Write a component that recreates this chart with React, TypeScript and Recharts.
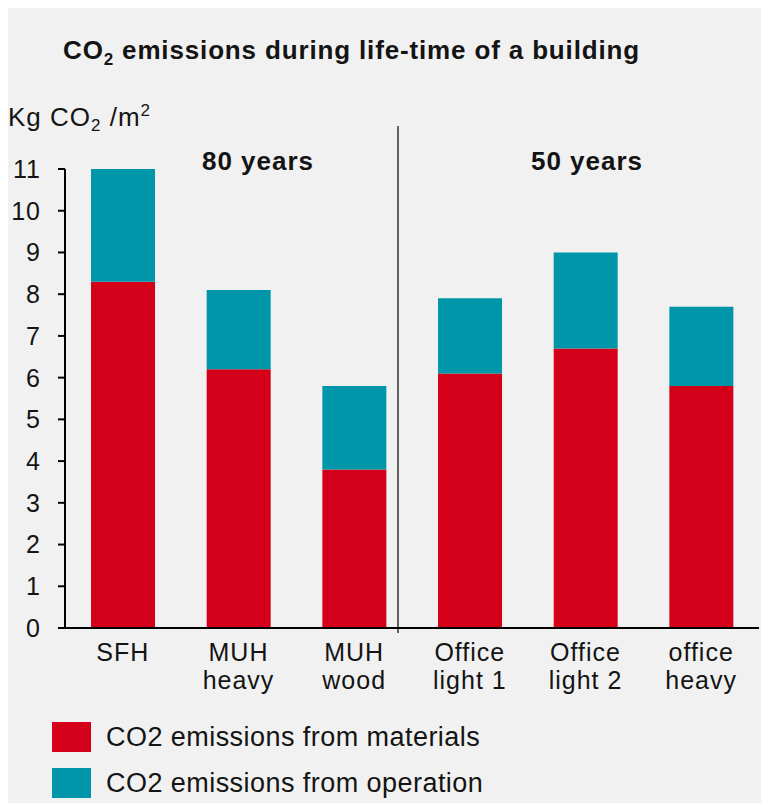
import { BarChart, Bar, XAxis, YAxis, ReferenceLine } from "recharts";

const categories = ["SFH", "MUH\nheavy", "MUH\nwood", "Office\nlight 1", "Office\nlight 2", "office\nheavy"];
const materials = [8.3, 6.2, 3.8, 6.1, 6.7, 5.8];
const operation = [2.7, 1.9, 2.0, 1.8, 2.3, 1.9];
const yTicks = [0, 1, 2, 3, 4, 5, 6, 7, 8, 9, 10, 11];
const seriesNames = ["CO2 emissions from materials", "CO2 emissions from operation"];
const seriesColors = ["#d40019", "#0096a9"];
const periods = ["80 years", "50 years"];

const data = categories.map((name, i) => ({
  name,
  materials: materials[i],
  operation: operation[i],
}));

const FONT = "'Liberation Sans', Arial, sans-serif";
const INK = "#141414";

const XTick = (props: any) => {
  const { x, y, payload } = props;
  const lines = String(payload.value).split("\n");
  return (
    <text x={x} y={y} textAnchor="middle" fill={INK} fontSize={25} fontFamily={FONT} style={{ letterSpacing: 1 }}>
      {lines.map((line, i) => (
        <tspan key={i} x={x} dy={i === 0 ? 33 : 28}>
          {line}
        </tspan>
      ))}
    </text>
  );
};

// divider between the two building groups, runs a bit above and below the plot
const Divider = (props: any) => {
  const { x1, y1, y2 } = props;
  const top = Math.min(y1, y2);
  const bottom = Math.max(y1, y2);
  return <line x1={x1 - 14} x2={x1 - 14} y1={top - 43} y2={bottom + 5} stroke="#333" strokeWidth={1.5} />;
};

export default function App() {
  return (
    <div
      style={{
        position: "relative",
        width: 761,
        height: 800,
        marginTop: -5,
        background: "#f1f1f1",
        fontFamily: FONT,
        color: INK,
      }}
    >
      <div style={{ position: "absolute", left: 55, top: 34, fontSize: 26, fontWeight: "bold", lineHeight: 1, whiteSpace: "nowrap", letterSpacing: 0.85 }}>
        CO<span style={{ fontSize: 17, position: "relative", top: 6 }}>2</span> emissions during life-time of a building
      </div>
      <div style={{ position: "absolute", left: 0, top: 101, fontSize: 26, lineHeight: 1, whiteSpace: "nowrap", letterSpacing: 1 }}>
        Kg CO<span style={{ fontSize: 17, position: "relative", top: 5 }}>2</span> /m<span style={{ fontSize: 17, position: "relative", top: -10 }}>2</span>
      </div>
      <div style={{ position: "absolute", left: 250 - 100, width: 200, textAlign: "center", top: 145, fontSize: 26, fontWeight: "bold", lineHeight: 1, letterSpacing: 1 }}>
        {periods[0]}
      </div>
      <div style={{ position: "absolute", left: 579 - 100, width: 200, textAlign: "center", top: 145, fontSize: 26, fontWeight: "bold", lineHeight: 1, letterSpacing: 1 }}>
        {periods[1]}
      </div>

      <div style={{ position: "absolute", left: 0, top: 0 }}>
        <BarChart
          width={761}
          height={800}
          data={data}
          margin={{ top: 166, right: 10, bottom: 105, left: 0 }}
          barCategoryGap="22.5%"
        >
          <XAxis
            dataKey="name"
            height={70}
            tickLine={false}
            tickSize={0}
            tickMargin={0}
            axisLine={{ stroke: "#000", strokeWidth: 2 }}
            tick={<XTick />}
            interval={0}
          />
          <YAxis
            width={57}
            domain={[0, 11]}
            ticks={yTicks}
            interval={0}
            tickSize={7}
            tickMargin={17}
            axisLine={{ stroke: "#000", strokeWidth: 2 }}
            tickLine={{ stroke: "#000", strokeWidth: 2 }}
            tick={{ fill: INK, fontSize: 25, fontFamily: FONT, style: { letterSpacing: 1 } }}
          />
          <ReferenceLine x={categories[2]} position="end" shape={<Divider />} ifOverflow="visible" />
          <Bar dataKey="materials" stackId="a" fill={seriesColors[0]} isAnimationActive={false} />
          <Bar dataKey="operation" stackId="a" fill={seriesColors[1]} isAnimationActive={false} />
        </BarChart>
      </div>

      {seriesNames.map((name, i) => (
        <div
          key={name}
          style={{ position: "absolute", left: 44, top: 719 + i * 46, display: "flex", alignItems: "center", whiteSpace: "nowrap" }}
        >
          <span style={{ display: "inline-block", width: 39, height: 30, background: seriesColors[i], marginRight: 15 }} />
          <span style={{ fontSize: 27, lineHeight: 1, letterSpacing: 0.45 }}>{name}</span>
        </div>
      ))}
    </div>
  );
}
